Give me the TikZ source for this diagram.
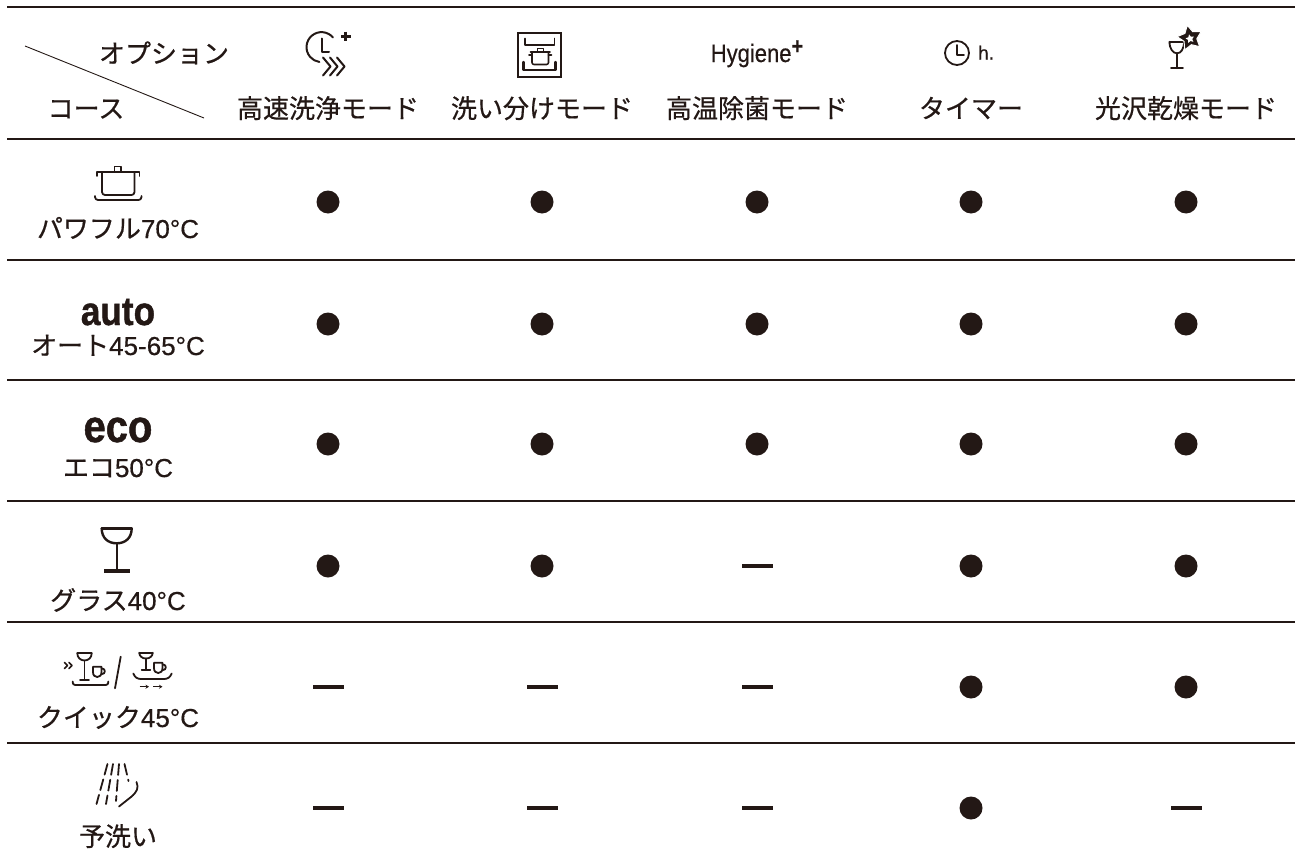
\documentclass[tikz,border=0pt]{standalone}
\usepackage{fontspec}
\setmainfont{Noto Sans CJK JP}[FakeBold=0.6]
\newfontfamily\lat{Liberation Sans}[FakeBold=0.5]
\newfontfamily\latb{Liberation Sans}[FakeBold=1.2]
\usetikzlibrary{shapes.geometric,arrows.meta}
\definecolor{ink}{HTML}{231815}
\begin{document}
\begin{tikzpicture}[x=1bp,y=-1bp,
  rule/.style={draw=ink,line width=1.6bp},
  jp/.style={font=\fontsize{26bp}{30bp}\selectfont,text=ink,anchor=base,inner sep=0},
  mk1/.style={circle,fill=ink,minimum size=23bp,inner sep=0},
  mk0/.style={rectangle,fill=ink,minimum width=31bp,minimum height=4bp,inner sep=0},
  icon/.style={draw=ink,line width=1.8bp,line cap=round,line join=round},
  bigbold/.style={font=\latb\bfseries\fontsize{#1}{#1}\selectfont,text=ink,anchor=base,inner sep=0}]
\useasboundingbox (0,0) rectangle (1295,861);
% rules
\foreach \yy/\nm in {7/a,139/b,260/c,380/d,501/e,622/f,743/g}{
  \coordinate (rl\nm) at (7,\yy);
  \coordinate (rr\nm) at (1295,\yy);
  \draw[rule] (rl\nm) -- (rr\nm);
}
\coordinate (dg1) at (25,46);
\coordinate (dg2) at (204,118);
\draw[ink,line width=0.9bp] (dg1) -- (dg2);
% corner header
\node[jp] (opt) at (164,63) {オプション};
\node[jp] (course) at (86,118) {コース};
% column headers
\node[jp] (h1) at (328,118) {高速洗浄モード};
\node[jp] (h2) at (542,118) {洗い分けモード};
\node[jp] (h3) at (757,118) {高温除菌モード};
\node[jp] (h4) at (971,118) {タイマー};
\node[jp] (h5) at (1186,118) {光沢乾燥モード};
% icon: speed
\draw[icon,line width=2bp] (333,37.5) arc[start angle=-40,end angle=-262,radius=15];
\draw[icon,line width=2bp] (321.5,38.5) -- (321.5,51.5) -- (329,51.5);
\foreach \xx in {323,330,337}{\draw[icon,line width=2bp] (\xx,57.5) -- (\xx+7.5,66.5) -- (\xx,75.5);}
\draw[ink,line width=2.6bp] (341,36.5) -- (350.5,36.5) (345.7,31.7) -- (345.7,41.3);
% icon: separate wash
\draw[ink,line width=2.2bp] (518.3,33.3) rectangle (561,76.7);
\draw[icon] (525,38.5) -- (525,45) -- (554.5,45) -- (554.5,38.5);
\draw[icon,line width=2.4bp] (523.5,62) -- (523.5,70) -- (555.5,70) -- (555.5,62);
\draw[icon,line width=1.6bp] (537.3,48.5) rectangle (543.3,51.7);
\draw[icon,line width=1.6bp] (530.5,51.7) -- (550,51.7);
\draw[icon,line width=1.6bp,rounded corners=2bp] (532,52) -- (532,64.5) -- (548.5,64.5) -- (548.5,52);
\draw[icon,line width=1.6bp] (529,55) -- (532,55) (548.5,55) -- (551.5,55);
% Hygiene+
\node[text=ink,anchor=base,inner sep=0,font=\lat\fontsize{22bp}{24bp}\selectfont] (hyg) at (757,62) {\scalebox{1}[1.15]{Hygiene\raisebox{7bp}{\fontsize{20bp}{20bp}\selectfont\bfseries +}}};
% timer
\draw[icon] (957,53) circle[radius=12];
\draw[icon] (957,45) -- (957,55) -- (964,55);
\node[text=ink,anchor=base west,inner sep=0,font=\lat\fontsize{19bp}{19bp}\selectfont] (hh) at (978,59.5) {h.};
% glass with star
\draw[icon,line width=1.8bp] (1169.5,41.7) -- (1184,41.7);
\draw[icon,line width=1.8bp] (1169.5,41.7) .. controls (1169.5,49) and (1173,53.3) .. (1177,53.3) .. controls (1181,53.3) and (1184,49) .. (1184,41.7);
\draw[icon,line width=1.8bp] (1177,53.3) -- (1177,68.3);
\draw[icon,line width=1.8bp] (1171,68.3) -- (1183,68.3);
\node[star,star points=5,star point ratio=1.9,fill=ink,draw=white,line width=1bp,minimum size=26bp,inner sep=0,rotate=12] (st) at (1190,38) {};
\node[star,star points=5,star point ratio=2,fill=white,minimum size=9bp,inner sep=0,rotate=12] (st2) at (1190,38.8) {};
% pot
\draw[icon,line width=1.6bp] (114.5,166.5) rectangle (121,171.7);
\draw[icon] (97,176) -- (97,171.7) -- (139.5,171.7) -- (139.5,176);
\draw[icon,rounded corners=3bp] (102,172) -- (102,195) -- (134.5,195) -- (134.5,172);
\draw[icon,rounded corners=3bp] (95,196) -- (95,200) -- (141.5,200) -- (141.5,196);
\node[jp] (c1) at (118,238) {パワフル{\lat 70°C}};
\node[bigbold=37bp] (c2a) at (118,325) {\scalebox{0.95}[1.08]{auto}};
\node[jp] (c2) at (118,355) {オート{\lat 45-65°C}};
\node[bigbold=42bp] (c3a) at (118,442) {\scalebox{0.95}[1.08]{eco}};
\node[jp] (c3) at (118,477) {エコ{\lat 50°C}};
% glass
\draw[icon,line width=2.4bp] (101.7,528.3) -- (131.7,528.3);
\draw[icon,line width=2.4bp] (101.7,528.3) .. controls (101.7,538) and (108,543.3) .. (116.7,543.3) .. controls (125.4,543.3) and (131.7,538) .. (131.7,528.3);
\draw[icon,line width=2.4bp] (116.7,543.3) -- (116.7,571);
\draw[ink,line width=3.2bp] (104,571) -- (129.5,571);
\node[jp] (c4) at (118,610) {グラス{\lat 40°C}};
% quick icon left
\draw[icon,line width=1.5bp] (64.5,662.5) -- (67.5,665.5) -- (64.5,668.5) (69,662.5) -- (72,665.5) -- (69,668.5);
\draw[icon] (77.3,653.3) -- (91.7,653.3);
\draw[icon] (77.3,653.3) .. controls (77.3,657.5) and (80.5,660.5) .. (84.5,660.5) .. controls (88.5,660.5) and (91.7,657.5) .. (91.7,653.3);
\draw[icon] (84.5,660.5) -- (84.5,680) (80,680) -- (89,680);
\draw[icon] (93,666.7) -- (101.5,666.7) -- (101.5,672) .. controls (101.5,675.5) and (99.5,677) .. (97.3,677) .. controls (95,677) and (93,675.5) .. (93,672) -- cycle;
\draw[icon] (101.5,668.3) .. controls (106,668.3) and (106,674.3) .. (101.3,674.3);
\draw[icon,rounded corners=2.5bp] (72.7,681.5) -- (72.7,685) -- (108.3,685) -- (108.3,681.5);
\draw[icon] (120.7,656.7) -- (115,688.3);
% quick icon right
\draw[icon] (139.3,652.7) -- (152.7,652.7);
\draw[icon] (139.3,652.7) .. controls (139.3,656.3) and (142.3,658.5) .. (146,658.5) .. controls (149.7,658.5) and (152.7,656.3) .. (152.7,652.7);
\draw[icon] (146,658.5) -- (146,670) (141.7,670) -- (150.3,670);
\draw[icon] (154,662.7) -- (162.5,662.7) -- (162.5,668) .. controls (162.5,671.5) and (160.5,673) .. (158.3,673) .. controls (156,673) and (154,671.5) .. (154,668) -- cycle;
\draw[icon] (162.5,664.3) .. controls (167,664.3) and (167,670.3) .. (162.3,670.3);
\draw[icon] (133.3,673.5) .. controls (135,677.5) and (137.5,679) .. (141,679) -- (164,679) .. controls (167.5,679) and (170,677.5) .. (171.7,673.5);
\draw[ink,line width=1.4bp,-{Stealth[length=3.5bp,width=4bp]}] (139.5,686.7) -- (149,686.7);
\draw[ink,line width=1.4bp,-{Stealth[length=3.5bp,width=4bp]}] (153,686.7) -- (162.5,686.7);
\node[jp] (c5) at (118,727) {クイック{\lat 45°C}};
% prewash icon
\draw[icon,dash pattern=on 11bp off 5bp] (107.5,764) -- (96.5,804);
\draw[icon,dash pattern=on 11bp off 5bp] (113,764) -- (106,804);
\draw[icon,dash pattern=on 11bp off 5bp] (119,764) -- (116,801);
\draw[icon,dash pattern=on 11bp off 5bp] (124.5,764) -- (128.5,781);
\draw[icon] (136.5,782) .. controls (139,788) and (137,792) .. (131,797) -- (119,806.5);
\node[jp] (c6) at (118,846) {予洗い};
% matrix
\foreach \y/\a/\b/\c/\d/\e [count=\r] in {202/1/1/1/1/1,324/1/1/1/1/1,444/1/1/1/1/1,566/1/1/0/1/1,687/0/0/0/1/1,808/0/0/0/1/0}{
  \foreach \x/\v [count=\k] in {328/\a,542/\b,757/\c,971/\d,1186/\e}{
    \node[mk\v] (m\r\k) at (\x,\y) {};
  }
}
\end{tikzpicture}
\end{document}
